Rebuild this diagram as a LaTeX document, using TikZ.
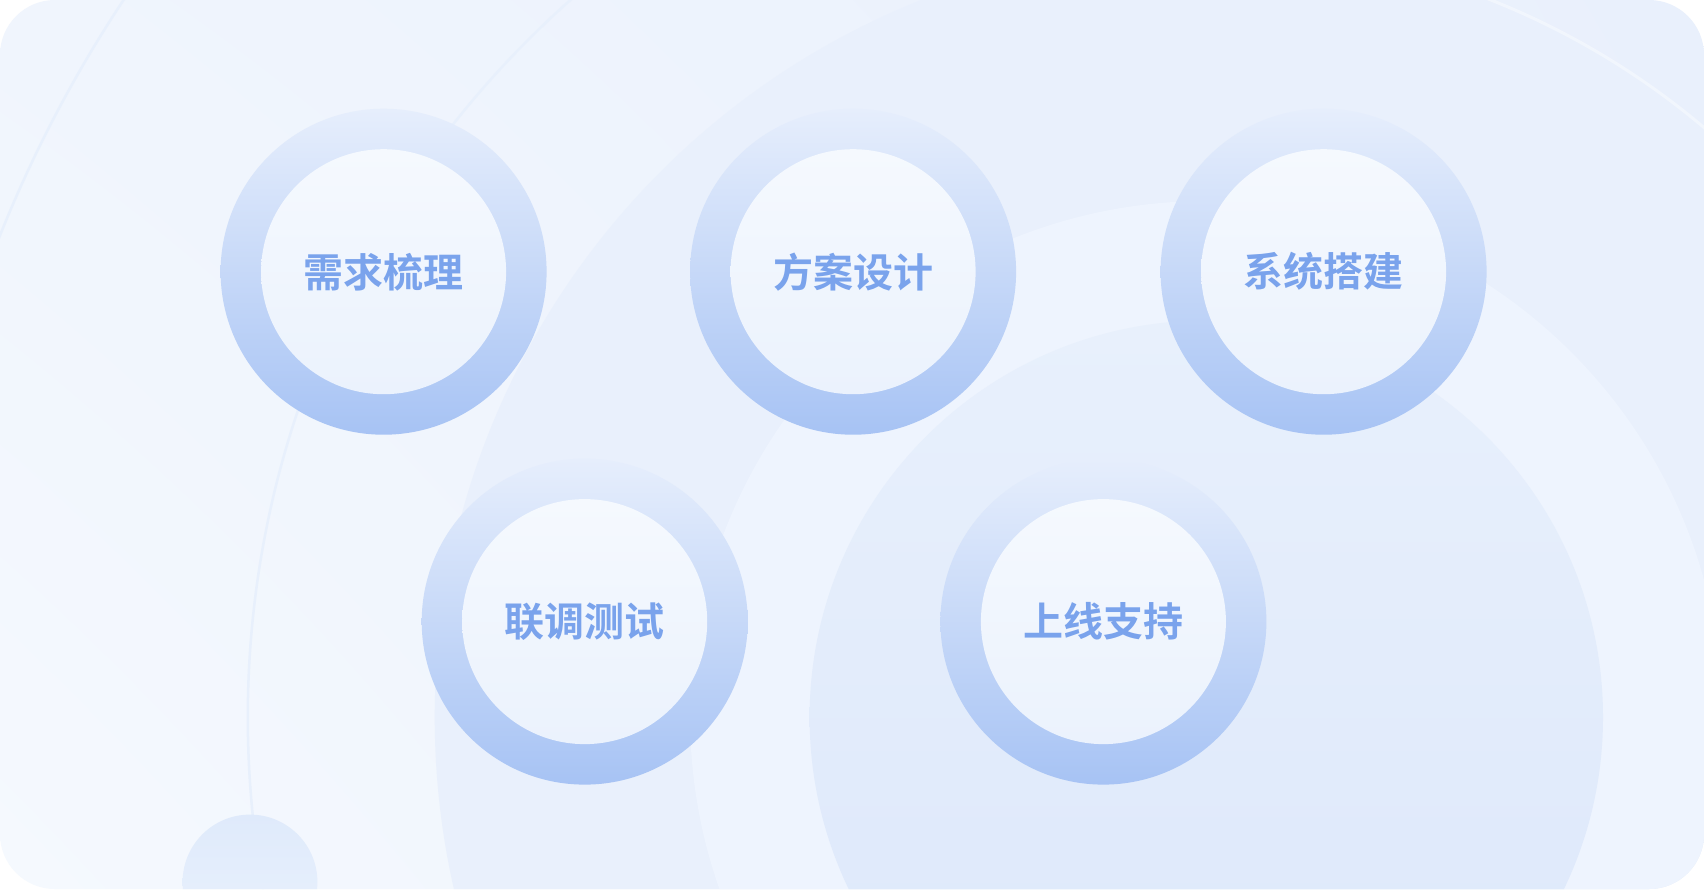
\documentclass[tikz,border=0pt]{standalone}
\usepackage{fontspec}
\newfontfamily\cjk{Noto Sans CJK SC}[BoldFont={Noto Sans CJK SC Bold}]
\usetikzlibrary{shadings}
\definecolor{bgll}{HTML}{F5F9FE}
\definecolor{bgul}{HTML}{F0F5FD}
\definecolor{bgur}{HTML}{E9F0FC}
\definecolor{bglr}{HTML}{EBF1FC}
\definecolor{bigfill}{HTML}{E9F0FC}
\definecolor{midfill}{HTML}{EEF4FE}
\definecolor{coretop}{HTML}{E8F0FC}
\definecolor{corebot}{HTML}{DCE7FA}
\definecolor{arcline}{HTML}{E8F0FC}
\definecolor{ringtop}{HTML}{E6EEFC}
\definecolor{ringbot}{HTML}{A7C3F4}
\definecolor{disctop}{HTML}{F5F9FE}
\definecolor{discbot}{HTML}{EBF2FD}
\definecolor{txtblue}{HTML}{7AA3EC}
\definecolor{dottop}{HTML}{DFEAFB}
\definecolor{dotbot}{HTML}{EAF2FD}
\begin{document}
\begin{tikzpicture}[x=1pt,y=-1pt,
  ringouter/.style={top color=ringtop, bottom color=ringbot},
  ringinner/.style={top color=disctop, bottom color=discbot},
  steplabel/.style={inner sep=0pt, font=\cjk\bfseries\fontsize{40pt}{40pt}\selectfont, text=txtblue},
  thinarc/.style={draw=arcline, line width=2.5pt}]
\useasboundingbox[fill=white] (0,0) rectangle (1704,892);
\begin{scope}
\clip[rounded corners=55pt] (0,0) rectangle (1704,889);
\shade[lower left=bgll, upper left=bgul, upper right=bgur, lower right=bglr] (0,0) rectangle (1704,889);
\coordinate (ctr) at (1206.3,717.2);
\draw[thinarc] (ctr) circle[radius=1298.6pt];
\draw[thinarc] (ctr) circle[radius=958.5pt];
\fill[bigfill] (ctr) circle[radius=771.6pt];
\draw[white, line width=3pt, opacity=0.4] (ctr) ++(75:771.6pt) arc[start angle=75, end angle=35, radius=771.6pt];
\fill[midfill] (ctr) circle[radius=516.2pt];
\shade[top color=coretop, bottom color=corebot] (ctr) circle[radius=396.7pt];
\shade[top color=dottop, bottom color=dotbot] (250,882) circle[radius=67.4pt];
\end{scope}
\foreach \cx/\cy/\nm in {383.6/271.7/c1, 853.1/271.7/c2, 1323.6/271.7/c3, 584.7/621.6/c4, 1103.4/621.6/c5}{
  \coordinate (\nm) at (\cx,\cy);
  \begin{scope}
    \clip (\nm) circle[radius=163pt];
    \shade[ringouter] ([shift={(-180,-163)}]\nm) rectangle ([shift={(180,163)}]\nm);
  \end{scope}
  \begin{scope}
    \clip (\nm) circle[radius=122.5pt];
    \shade[ringinner] ([shift={(-140,-122.5)}]\nm) rectangle ([shift={(140,122.5)}]\nm);
  \end{scope}
}
\node[steplabel] (t1) at (c1) {需求梳理};
\node[steplabel] (t2) at (c2) {方案设计};
\node[steplabel] (t3) at (c3) {系统搭建};
\node[steplabel] (t4) at (c4) {联调测试};
\node[steplabel] (t5) at (c5) {上线支持};
\end{tikzpicture}
\end{document}
